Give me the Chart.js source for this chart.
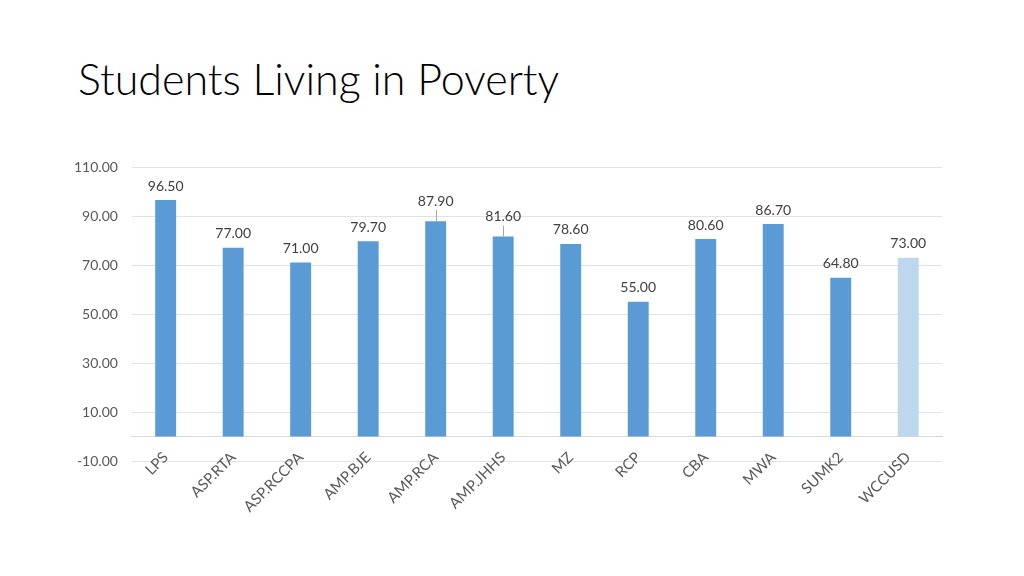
<!DOCTYPE html>
<html>
<head>
<meta charset="utf-8">
<script src="https://cdn.jsdelivr.net/npm/chart.js@4"></script>
<style>
  html, body { margin: 0; padding: 0; background: #ffffff; }
  body { width: 1024px; height: 576px; position: relative; overflow: hidden; }
  #title { position: absolute; left: 78px; top: 57px; margin: 0; font-family: Lato, "Open Sans", sans-serif; font-weight: 300; font-size: 43px; color: #000000; white-space: nowrap; line-height: 1; }
  #wrap { position: absolute; left: 0; top: 0; width: 1024px; height: 576px; }
</style>
</head>
<body>
<h1 id="title">Students Living in Poverty</h1>
<div id="wrap"><canvas id="c" width="1024" height="576"></canvas></div>
<script>
const categories = ["LPS", "ASP.RTA", "ASP.RCCPA", "AMP.BJE", "AMP.RCA", "AMP.JHHS", "MZ", "RCP", "CBA", "MWA", "SUMK2", "WCCUSD"];
const povertyValues = [96.5, 77.0, 71.0, 79.7, 87.9, 81.6, 78.6, 55.0, 80.6, 86.7, 64.8, 73.0];
const yTickValues = [-10, 10, 30, 50, 70, 90, 110];

const barColors = categories.map((c, i) => i === categories.length - 1 ? '#BDD7EE' : '#5B9BD5');
const labelLift = { 4: 6, 5: 6 }; // labels shifted up with leader lines

const valueLabels = {
  id: 'valueLabels',
  afterDatasetsDraw(chart) {
    const ctx = chart.ctx;
    const meta = chart.getDatasetMeta(0);
    ctx.save();
    ctx.font = '14px Lato, "Open Sans", sans-serif';
    ctx.fillStyle = '#404040';
    ctx.textAlign = 'center';
    ctx.textBaseline = 'middle';
    meta.data.forEach((bar, i) => {
      const lift = labelLift[i] || 0;
      const y = bar.y - 14 - lift;
      ctx.fillText(povertyValues[i].toFixed(2), bar.x, y);
      if (lift) {
        ctx.strokeStyle = '#A6A6A6';
        ctx.lineWidth = 1;
        ctx.beginPath();
        ctx.moveTo(Math.round(bar.x) + 0.5, y + 9);
        ctx.lineTo(Math.round(bar.x) + 0.5, bar.y);
        ctx.stroke();
      }
    });
    ctx.restore();
  }
};

new Chart(document.getElementById('c'), {
  type: 'bar',
  data: {
    labels: categories,
    datasets: [{
      data: povertyValues,
      backgroundColor: barColors,
      borderWidth: 0,
      barPercentage: 0.31,
      categoryPercentage: 1.0
    }]
  },
  options: {
    responsive: false,
    animation: false,
    layout: { padding: { left: 60, right: 82, top: 167, bottom: 115 } },
    plugins: { legend: { display: false }, tooltip: { enabled: false }, title: { display: false } },
    scales: {
      x: {
        position: { y: 0 },
        grid: { display: false, drawTicks: false },
        border: { display: true, color: '#D9D9D9', width: 1 },
        ticks: {
          color: '#595959',
          font: { family: 'Lato, "Open Sans", sans-serif', size: 15 },
          minRotation: 45, maxRotation: 45,
          padding: 12
        }
      },
      y: {
        min: -10,
        max: 110,
        afterBuildTicks(scale) { scale.ticks = yTickValues.map(v => ({ value: v })); },
        grid: { color: '#E3E3E3', drawTicks: false },
        border: { display: false },
        ticks: {
          color: '#595959',
          font: { family: 'Lato, "Open Sans", sans-serif', size: 14 },
          padding: 14,
          callback: v => Number(v).toFixed(2)
        }
      }
    }
  },
  plugins: [valueLabels]
});
</script>
</body>
</html>
